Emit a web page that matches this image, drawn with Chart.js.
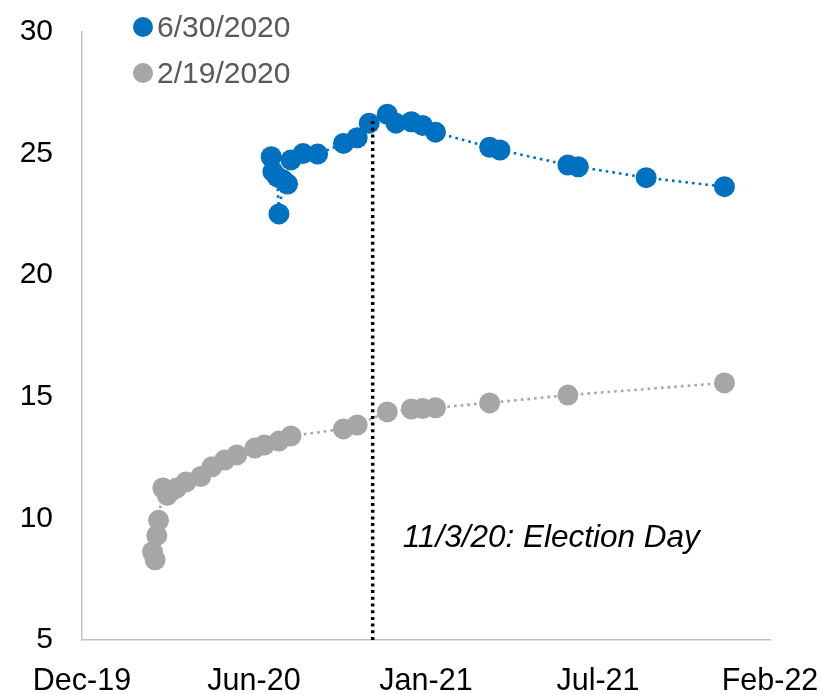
<!DOCTYPE html>
<html>

<head>
  <title>SPX Implied Vol Term Structure</title>
  <script src="https://cdn.jsdelivr.net/npm/chart.js"></script>
  <style type="text/css">
    body {
      margin: 0;
      background: #fff;
    }

    .wrap {
      position: relative;
      width: 823px;
      height: 694px;
    }

    /* legend sits inside the plot, top left */
    #legend {
      position: absolute;
      left: 133px;
      top: 4px;
      font-family: "Liberation Sans", Arial, sans-serif;
      font-size: 30px;
      color: #595959;
    }

    #legend .item {
      height: 46px;
      display: flex;
      align-items: center;
    }

    #legend .dot {
      width: 20px;
      height: 20px;
      border-radius: 50%;
      margin-right: 4px;
      display: inline-block;
    }
  </style>
</head>

<body>
  <div class="wrap">
    <canvas id="myChart" width="823" height="694"></canvas>
    <div id="legend"></div>
  </div>

  <script>
    // option expiries and implied vol, curve as of 6/30/2020
    const dates0630 = ['2020-07-08', '2020-07-10', '2020-07-15', '2020-07-17', '2020-07-22', '2020-07-27',
      '2020-07-31', '2020-08-14', '2020-08-31', '2020-09-30', '2020-10-16', '2020-10-30', '2020-11-20',
      '2020-11-30', '2020-12-18', '2020-12-31', '2021-01-15', '2021-03-19', '2021-03-31', '2021-06-18',
      '2021-06-30', '2021-09-17', '2021-12-17'];
    const vols0630 = [24.87, 24.26, 24.05, 22.52, 23.91, 23.75, 24.74, 25.0, 24.98, 25.42, 25.65, 26.25, 26.62,
      26.25, 26.31, 26.16, 25.88, 25.26, 25.15, 24.53, 24.46, 24.01, 23.64];

    // curve as of 2/19/2020
    const dates0219 = ['2020-02-21', '2020-02-24', '2020-02-26', '2020-02-28', '2020-03-04', '2020-03-06',
      '2020-03-09', '2020-03-11', '2020-03-13', '2020-03-20', '2020-03-31', '2020-04-17', '2020-04-30',
      '2020-05-15', '2020-05-29', '2020-06-19', '2020-06-30', '2020-07-17', '2020-07-31', '2020-09-30',
      '2020-10-16', '2020-11-20', '2020-12-18', '2020-12-31', '2021-01-15', '2021-03-19', '2021-06-18',
      '2021-12-17'];
    const vols0219 = [8.63, 8.3, 9.3, 9.92, 11.25, 11.2, 10.95, 11.05, 11.1, 11.25, 11.5, 11.72, 12.12,
      12.4, 12.61, 12.89, 13.02, 13.18, 13.39, 13.68, 13.84, 14.38, 14.5, 14.52, 14.55, 14.75, 15.07, 15.57];

    const seriesLabels = ['6/30/2020', '2/19/2020'];
    const seriesColors = ['#0070C0', '#A6A6A6'];

    const electionDate = '2020-11-03';
    const electionText = '11/3/20: Election Day';
    const electionLineTop = 26.5;
    const electionTextY = 9.2;

    const axisStartDate = '2019-12-01';
    const axisStepDays = 200;
    const axisSteps = 4;
    const yMin = 5, yMax = 30, yStep = 5;

    const months = ['Jan', 'Feb', 'Mar', 'Apr', 'May', 'Jun', 'Jul', 'Aug', 'Sep', 'Oct', 'Nov', 'Dec'];
    const FONT = '"Liberation Sans", Arial, sans-serif';

    function toDay(s) {
      const p = s.split('-').map(Number);
      return Date.UTC(p[0], p[1] - 1, p[2]) / 86400000;
    }

    function dayLabel(d) {
      const dt = new Date(d * 86400000);
      return months[dt.getUTCMonth()] + '-' + String(dt.getUTCFullYear()).slice(2);
    }

    function points(dates, vals) {
      return dates.map((d, i) => ({ x: toDay(d), y: vals[i] }));
    }

    const axisStart = toDay(axisStartDate);
    const electionDay = toDay(electionDate);

    const electionLabel = {
      id: 'electionLabel',
      afterDatasetsDraw(chart) {
        const { ctx, scales: { x, y } } = chart;
        ctx.save();
        ctx.font = 'italic 31.5px ' + FONT;
        ctx.fillStyle = '#000';
        ctx.textBaseline = 'middle';
        ctx.fillText(electionText, x.getPixelForValue(electionDay) + 30, y.getPixelForValue(electionTextY));
        ctx.restore();
      }
    };

    function series(i, data) {
      return {
        label: seriesLabels[i],
        data: data,
        showLine: true,
        order: 1,
        borderColor: seriesColors[i],
        backgroundColor: seriesColors[i],
        borderWidth: 2.6,
        borderDash: [2.6, 4.1],
        pointRadius: 10.5,
        pointBorderWidth: 0,
        pointBackgroundColor: seriesColors[i]
      };
    }

    var ctx = document.getElementById('myChart').getContext('2d');
    var myChart = new Chart(ctx, {
      type: 'scatter',
      data: {
        datasets: [
          series(0, points(dates0630, vols0630)),
          series(1, points(dates0219, vols0219)),
          {
            label: '',
            data: [{ x: electionDay, y: yMin }, { x: electionDay, y: electionLineTop }],
            showLine: true,
            order: 0,
            borderColor: '#000',
            borderWidth: 3.5,
            borderDash: [3, 3.7],
            pointRadius: 0
          }
        ]
      },
      options: {
        responsive: false,
        animation: false,
        layout: { padding: { top: 32, right: 53, left: 0, bottom: 0 } },
        plugins: {
          legend: { display: false },
          tooltip: { enabled: false }
        },
        scales: {
          x: {
            type: 'linear',
            min: axisStart,
            max: axisStart + axisStepDays * axisSteps,
            afterBuildTicks: s => {
              s.ticks = [];
              for (let k = 0; k <= axisSteps; k++) s.ticks.push({ value: axisStart + k * axisStepDays });
            },
            afterFit: s => {
              s.height = 54;
              s.paddingLeft = 0;
              s.paddingRight = 0;
            },
            ticks: {
              callback: v => dayLabel(v),
              font: { family: FONT, size: 30.5 },
              color: '#000',
              padding: 23,
              maxRotation: 0,
              autoSkip: false
            },
            grid: { display: false, drawTicks: false },
            border: { color: '#BFBFBF', width: 1.5 }
          },
          y: {
            min: yMin,
            max: yMax,
            afterFit: s => {
              s.width = 82;
              s.paddingTop = 0;
              s.paddingBottom = 0;
            },
            ticks: {
              stepSize: yStep,
              font: { family: FONT, size: 30 },
              color: '#000',
              padding: 29
            },
            grid: { display: false, drawTicks: false },
            border: { color: '#BFBFBF', width: 1.5 }
          }
        }
      },
      plugins: [electionLabel]
    });

    // legend built from the chart's own datasets
    const legendBox = document.getElementById('legend');
    myChart.data.datasets.forEach(ds => {
      if (!ds.label) return;
      const row = document.createElement('div');
      row.className = 'item';
      const dot = document.createElement('span');
      dot.className = 'dot';
      dot.style.backgroundColor = ds.backgroundColor;
      const txt = document.createElement('span');
      txt.innerText = ds.label;
      row.appendChild(dot);
      row.appendChild(txt);
      legendBox.appendChild(row);
    });
  </script>
</body>

</html>
